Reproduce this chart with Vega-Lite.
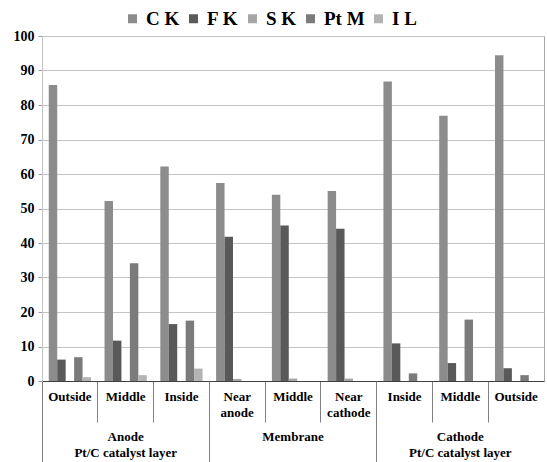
{
  "$schema": "https://vega.github.io/schema/vega-lite/v6.json",
  "width": 502,
  "height": 345,
  "autosize": "none",
  "padding": {"left": 42, "top": 36, "right": 3, "bottom": 81},
  "background": "white",
  "config": {"view": {"stroke": "#a6a6a6"}, "font": "Liberation Serif"},
  "data": {"values": [
    {"pos": "Anode|Outside", "series": "C K", "value": 85.8},
    {"pos": "Anode|Outside", "series": "F K", "value": 6.2},
    {"pos": "Anode|Outside", "series": "S K", "value": 0},
    {"pos": "Anode|Outside", "series": "Pt M", "value": 6.9},
    {"pos": "Anode|Outside", "series": "I L", "value": 1.1},
    {"pos": "Anode|Middle", "series": "C K", "value": 52.2},
    {"pos": "Anode|Middle", "series": "F K", "value": 11.7},
    {"pos": "Anode|Middle", "series": "S K", "value": 0},
    {"pos": "Anode|Middle", "series": "Pt M", "value": 34.1},
    {"pos": "Anode|Middle", "series": "I L", "value": 1.7},
    {"pos": "Anode|Inside", "series": "C K", "value": 62.2},
    {"pos": "Anode|Inside", "series": "F K", "value": 16.5},
    {"pos": "Anode|Inside", "series": "S K", "value": 0},
    {"pos": "Anode|Inside", "series": "Pt M", "value": 17.5},
    {"pos": "Anode|Inside", "series": "I L", "value": 3.6},
    {"pos": "Membrane|Near anode", "series": "C K", "value": 57.4},
    {"pos": "Membrane|Near anode", "series": "F K", "value": 41.8},
    {"pos": "Membrane|Near anode", "series": "S K", "value": 0.6},
    {"pos": "Membrane|Near anode", "series": "Pt M", "value": 0},
    {"pos": "Membrane|Near anode", "series": "I L", "value": 0},
    {"pos": "Membrane|Middle", "series": "C K", "value": 54.0},
    {"pos": "Membrane|Middle", "series": "F K", "value": 45.1},
    {"pos": "Membrane|Middle", "series": "S K", "value": 0.7},
    {"pos": "Membrane|Middle", "series": "Pt M", "value": 0},
    {"pos": "Membrane|Middle", "series": "I L", "value": 0},
    {"pos": "Membrane|Near cathode", "series": "C K", "value": 55.1},
    {"pos": "Membrane|Near cathode", "series": "F K", "value": 44.1},
    {"pos": "Membrane|Near cathode", "series": "S K", "value": 0.7},
    {"pos": "Membrane|Near cathode", "series": "Pt M", "value": 0},
    {"pos": "Membrane|Near cathode", "series": "I L", "value": 0},
    {"pos": "Cathode|Inside", "series": "C K", "value": 86.8},
    {"pos": "Cathode|Inside", "series": "F K", "value": 10.9},
    {"pos": "Cathode|Inside", "series": "S K", "value": 0},
    {"pos": "Cathode|Inside", "series": "Pt M", "value": 2.2},
    {"pos": "Cathode|Inside", "series": "I L", "value": 0},
    {"pos": "Cathode|Middle", "series": "C K", "value": 76.9},
    {"pos": "Cathode|Middle", "series": "F K", "value": 5.2},
    {"pos": "Cathode|Middle", "series": "S K", "value": 0},
    {"pos": "Cathode|Middle", "series": "Pt M", "value": 17.8},
    {"pos": "Cathode|Middle", "series": "I L", "value": 0},
    {"pos": "Cathode|Outside", "series": "C K", "value": 94.4},
    {"pos": "Cathode|Outside", "series": "F K", "value": 3.7},
    {"pos": "Cathode|Outside", "series": "S K", "value": 0},
    {"pos": "Cathode|Outside", "series": "Pt M", "value": 1.7},
    {"pos": "Cathode|Outside", "series": "I L", "value": 0}
  ]},
  "layer": [
    {
      "mark": {"type": "bar"},
      "encoding": {
        "x": {
          "field": "pos", "type": "nominal", "sort": null,
          "scale": {"paddingInner": 0, "paddingOuter": 0},
          "axis": {
            "orient": "bottom",
            "title": null, "labelAngle": 0, "bandPosition": 0, "tickSize": 41,
            "tickColor": "#808080", "domainColor": "#404040", "grid": false,
            "labelExpr": "split(split(datum.value,'|')[1],' ')",
            "labelFont": "Liberation Serif", "labelFontWeight": "bold", "labelFontSize": 13,
            "labelColor": "black", "labelPadding": -32, "labelLineHeight": 16,
            "labelOverlap": false, "labelBound": false, "labelFlush": false
          }
        },
        "xOffset": {
          "field": "series", "type": "nominal",
          "sort": ["C K", "F K", "S K", "Pt M", "I L"],
          "scale": {"domain": ["C K", "F K", "S K", "Pt M", "I L"], "paddingOuter": 0.8, "paddingInner": 0}
        },
        "y": {
          "field": "value", "type": "quantitative",
          "scale": {"domain": [0, 100], "nice": false},
          "axis": {
            "title": null, "values": [0, 10, 20, 30, 40, 50, 60, 70, 80, 90, 100],
            "gridColor": "#c4c4c4", "domainColor": "#c4c4c4", "tickColor": "#a0a0a0", "tickSize": 4,
            "labelFont": "Liberation Serif", "labelFontWeight": "bold", "labelFontSize": 14,
            "labelColor": "black", "labelPadding": 4
          }
        },
        "color": {
          "field": "series", "type": "nominal",
          "sort": ["C K", "F K", "S K", "Pt M", "I L"],
          "scale": {"domain": ["C K", "F K", "S K", "Pt M", "I L"],
                    "range": ["#8c8c8c", "#595959", "#a6a6a6", "#7b7b7b", "#b3b3b3"]},
          "legend": {
            "orient": "none", "legendX": 81, "legendY": -27, "direction": "horizontal",
            "title": null, "symbolType": "square", "symbolSize": 81, "symbolStrokeWidth": 0,
            "labelFont": "Liberation Serif", "labelFontWeight": "bold", "labelFontSize": 19,
            "labelColor": "black", "columnPadding": 4, "labelOffset": 4
          }
        }
      }
    },
    {
      "mark": {"type": "rule", "opacity": 0},
      "encoding": {
        "x": {
          "field": "pos", "type": "nominal", "sort": null,
          "axis": {
            "orient": "bottom",
            "title": null, "labelAngle": 0, "bandPosition": 0, "tickSize": 81,
            "values": ["Anode|Outside", "Membrane|Near anode", "Cathode|Inside"],
            "tickColor": "#808080", "domain": false, "grid": false,
            "labelOffset": 55.78, "labelPadding": -32, "labelLineHeight": 16,
            "labelExpr": "datum.value == 'Anode|Outside' ? ['Anode','Pt/C catalyst layer'] : datum.value == 'Membrane|Near anode' ? 'Membrane' : ['Cathode','Pt/C catalyst layer']",
            "labelFont": "Liberation Serif", "labelFontWeight": "bold", "labelFontSize": 13,
            "labelColor": "black", "labelOverlap": false, "labelBound": false, "labelFlush": false
          }
        }
      }
    }
  ],
  "resolve": {"axis": {"x": "independent"}}
}
